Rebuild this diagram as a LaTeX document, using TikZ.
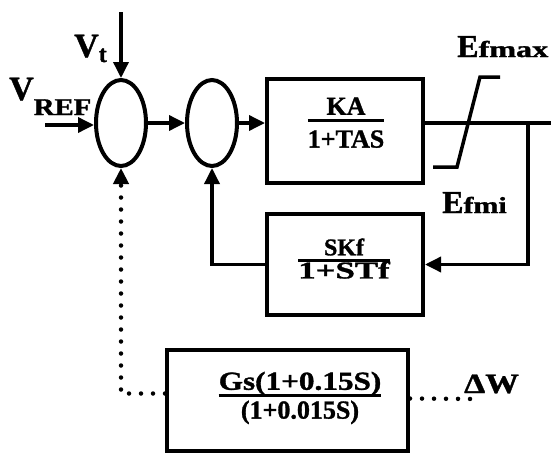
\documentclass[tikz,border=0pt]{standalone}
\usepackage{fontspec}
\setmainfont{Liberation Serif}[BoldFeatures={FakeBold=1.2}]
\usepackage{graphicx}
\usepackage{tikz}
\usetikzlibrary{shapes,arrows.meta,positioning,calc}
\setlength{\arrayrulewidth}{3pt}
\newcommand{\fs}[1]{\fontsize{#1}{#1}\selectfont}
\newcommand{\wide}[2]{\scalebox{#1}[1]{#2}}
\newcommand{\blkfrac}[3][0pt]{\begin{tabular}{@{}c@{}}#2\\[-4pt]\hline\rule{0pt}{#1}#3\end{tabular}}

\begin{document}
\begin{tikzpicture}[
    x=1pt, y=-1pt,
    sum/.style={ellipse, draw, line width=4pt, minimum width=50pt, minimum height=86pt, inner sep=0pt},
    blk/.style={rectangle, draw, line width=4pt, inner sep=0pt},
    sig/.style={line width=3.5pt, -{Triangle[length=16pt,width=15pt]}},
    wire/.style={line width=3.5pt},
    dots/.style={line width=4.5pt, dash pattern=on 0pt off 12pt, line cap=round},
    dotsig/.style={dots, -{Triangle[length=16pt,width=15pt]}},
    lbl/.style={font=\bfseries, inner sep=0pt}
]
    \useasboundingbox (0,0) rectangle (551,455);

    % Summing junctions
    \node[sum] (s1) at (121,123) {};
    \node[sum] (s2) at (212,123) {};

    % Blocks (frames, then their transfer functions)
    \node[blk, minimum width=156pt, minimum height=104pt] (ka) at (345,131) {};
    \node[lbl, font=\bfseries\fs{26}] (kat) at (346,126) {\blkfrac[26pt]{KA}{1+TAS}};
    \node[blk, minimum width=156pt, minimum height=101pt] (kf) at (345,264.5) {};
    \node[lbl, font=\bfseries\fs{24}] (kft) at (344,262) {\blkfrac{SKf}{\wide{1.45}{1+STf}}};
    \node[blk, minimum width=241pt, minimum height=101pt] (gs) at (287.5,400.5) {};
    \node[lbl, font=\bfseries\fs{26}] (gst) at (300,399) {\blkfrac[22pt]{\wide{1.2}{Gs(1+0.15S)}}{(1+0.015S)}};

    % Signal labels
    \node[lbl, anchor=base west, font=\bfseries\fs{34}] (vt) at (74,57) {V\raisebox{-5pt}{\fs{24}t}};
    \node[lbl, anchor=base west, font=\bfseries\fs{34}] (vref) at (9,100) {V\raisebox{-15pt}{\fs{24}\wide{1.2}{REF}}};
    \node[lbl, anchor=base west, font=\bfseries\fs{32}] (emax) at (457,57) {E\fs{23}\wide{1.4}{fmax}};
    \node[lbl, anchor=base west, font=\bfseries\fs{32}] (emin) at (442,213) {E\fs{23}\wide{1.3}{fmi}};
    \node[lbl, anchor=base west, font=\bfseries\fs{28}] (dw) at (464,393) {\wide{1.2}{ΔW}};

    % Free ends of the connectors
    \coordinate (vt0) at (121,12);
    \coordinate (vr0) at (45,125);
    \coordinate (br) at (528,123);
    \coordinate (out) at (551,123);
    \coordinate (dwend) at (478,399);

    % Forward path
    \draw[sig] (vt0) -- (s1.north);
    \draw[sig] (vr0) -- (s1.west |- vr0);
    \draw[sig] (s1.east) -- (s2.west);
    \draw[sig] (s2.east) -- (s2 -| ka.west);
    \draw[wire] (s2 -| ka.east) -- (out);

    % Rate feedback
    \draw[sig] (br) |- (kf.east);
    \draw[sig] (kf.west) -| (s2.south);

    % Output limiter
    \draw[wire] (433,167) -- (457,167) -- (480,77) -- (500,77);

    % Stabilizer signal (dotted)
    \draw[dotsig] ([yshift=7pt]gs.west) -| (s1.south);
    \draw[dots] ([yshift=2pt]gs.east) -- (dwend);
\end{tikzpicture}
\end{document}
